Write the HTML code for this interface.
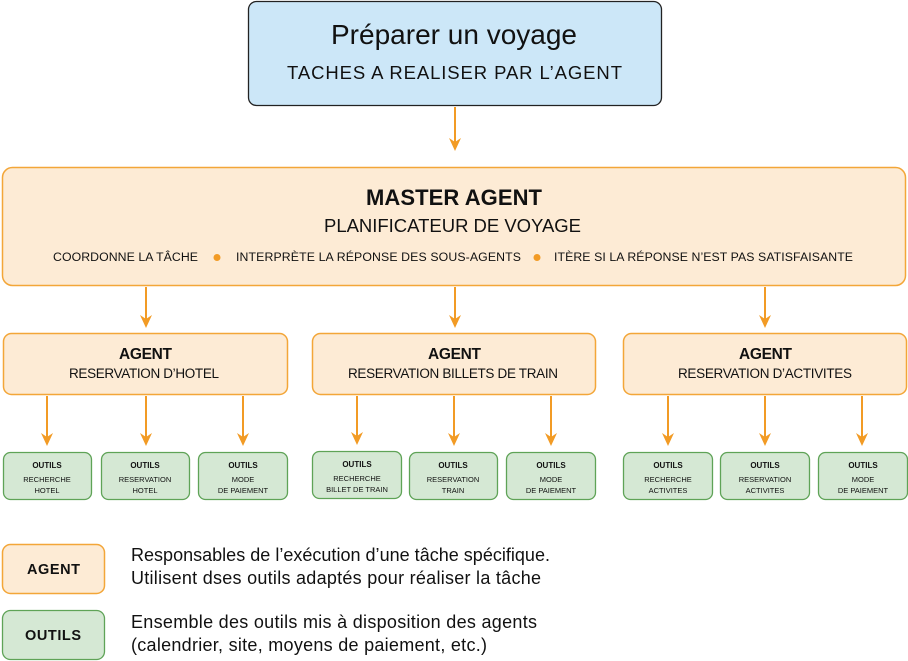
<!DOCTYPE html>
<html><head><meta charset="utf-8"><style>
html,body{margin:0;padding:0;background:#fff;}
svg{display:block;font-family:"Liberation Sans",Arial,sans-serif;}
</style></head><body>
<svg width="908" height="661" viewBox="0 0 908 661" xmlns="http://www.w3.org/2000/svg">
<defs>
<path id="ah" d="M-6,-13 L0,-9 L6,-13 L0,0 Z" fill="#F29B25"/>
</defs>
<g stroke="#F29B25" stroke-width="2" fill="none">
<line x1="455" y1="107" x2="455" y2="143"/>
<line x1="146" y1="287" x2="146" y2="320"/>
<line x1="455" y1="287" x2="455" y2="320"/>
<line x1="765" y1="287" x2="765" y2="320"/>
<line x1="47" y1="396" x2="47" y2="438"/>
<line x1="146" y1="396" x2="146" y2="438"/>
<line x1="243" y1="396" x2="243" y2="438"/>
<line x1="357" y1="396" x2="357" y2="437"/>
<line x1="454" y1="396" x2="454" y2="438"/>
<line x1="551" y1="396" x2="551" y2="438"/>
<line x1="668" y1="396" x2="668" y2="438"/>
<line x1="765" y1="396" x2="765" y2="438"/>
<line x1="862" y1="396" x2="862" y2="438"/>
</g>
<use href="#ah" x="455" y="151"/>
<use href="#ah" x="146" y="328"/><use href="#ah" x="455" y="328"/><use href="#ah" x="765" y="328"/>
<use href="#ah" x="47" y="446"/><use href="#ah" x="146" y="446"/><use href="#ah" x="243" y="446"/>
<use href="#ah" x="357" y="445"/><use href="#ah" x="454" y="446"/><use href="#ah" x="551" y="446"/>
<use href="#ah" x="668" y="446"/><use href="#ah" x="765" y="446"/><use href="#ah" x="862" y="446"/>
<!-- top -->
<rect x="248.5" y="1.5" width="413" height="104" rx="8" fill="#CCE7F8" stroke="#222" stroke-width="1.3"/>
<text x="331" y="44" font-size="28" fill="#111" textLength="246" lengthAdjust="spacing">Préparer un voyage</text>
<text x="287" y="79" font-size="18.5" fill="#111" textLength="335" lengthAdjust="spacing">TACHES A REALISER PAR L’AGENT</text>
<!-- master -->
<rect x="2.5" y="167.5" width="903" height="118" rx="10" fill="#FDEBD5" stroke="#F3A638" stroke-width="1.5"/>
<text x="366" y="205" font-size="22" font-weight="bold" fill="#111" textLength="176" lengthAdjust="spacing">MASTER AGENT</text>
<text x="324" y="232" font-size="18.5" fill="#111" textLength="257" lengthAdjust="spacing">PLANIFICATEUR DE VOYAGE</text>
<g font-size="12.3" fill="#111">
<text x="53" y="261" textLength="145" lengthAdjust="spacing">COORDONNE LA TÂCHE</text>
<text x="236" y="261" textLength="285" lengthAdjust="spacing">INTERPRÈTE LA RÉPONSE DES SOUS-AGENTS</text>
<text x="554" y="261" textLength="299" lengthAdjust="spacing">ITÈRE SI LA RÉPONSE N’EST PAS SATISFAISANTE</text>
</g>
<circle cx="217" cy="257.5" r="3.5" fill="#F29B25"/>
<circle cx="537" cy="257.5" r="3.5" fill="#F29B25"/>
<!-- agents -->
<g fill="#FDEBD5" stroke="#F3A638" stroke-width="1.5">
<rect x="3.5" y="333.5" width="284" height="61" rx="8"/>
<rect x="312.5" y="333.5" width="283" height="61" rx="8"/>
<rect x="623.5" y="333.5" width="283" height="61" rx="8"/>
</g>
<g fill="#111">
<text x="119" y="359" font-size="15.5" font-weight="bold" textLength="53" lengthAdjust="spacing">AGENT</text>
<text x="69" y="378" font-size="13.5" textLength="150" lengthAdjust="spacing">RESERVATION D’HOTEL</text>
<text x="428" y="359" font-size="15.5" font-weight="bold" textLength="53" lengthAdjust="spacing">AGENT</text>
<text x="348" y="378" font-size="13.5" textLength="210" lengthAdjust="spacing">RESERVATION BILLETS DE TRAIN</text>
<text x="739" y="359" font-size="15.5" font-weight="bold" textLength="53" lengthAdjust="spacing">AGENT</text>
<text x="678" y="378" font-size="13.5" textLength="174" lengthAdjust="spacing">RESERVATION D’ACTIVITES</text>
</g>
<!-- tools -->
<g fill="#D5E8D4" stroke="#5FA357" stroke-width="1.3">
<rect x="3.5" y="452.5" width="88" height="47" rx="7"/>
<rect x="101.5" y="452.5" width="88" height="47" rx="7"/>
<rect x="198.5" y="452.5" width="89" height="47" rx="7"/>
<rect x="312.5" y="451.5" width="89" height="47" rx="7"/>
<rect x="409.5" y="452.5" width="88" height="47" rx="7"/>
<rect x="506.5" y="452.5" width="89" height="47" rx="7"/>
<rect x="623.5" y="452.5" width="89" height="47" rx="7"/>
<rect x="720.5" y="452.5" width="89" height="47" rx="7"/>
<rect x="818.5" y="452.5" width="89" height="47" rx="7"/>
</g>
<g text-anchor="middle" fill="#111" font-size="7.5">
<g font-weight="bold" font-size="8">
<text x="47" y="468">OUTILS</text><text x="145" y="468">OUTILS</text><text x="243" y="468">OUTILS</text>
<text x="357" y="467">OUTILS</text><text x="453" y="468">OUTILS</text><text x="551" y="468">OUTILS</text>
<text x="668" y="468">OUTILS</text><text x="765" y="468">OUTILS</text><text x="863" y="468">OUTILS</text>
</g>
<text x="47" y="482">RECHERCHE</text><text x="47" y="493">HOTEL</text>
<text x="145" y="482">RESERVATION</text><text x="145" y="493">HOTEL</text>
<text x="243" y="482">MODE</text><text x="243" y="493">DE PAIEMENT</text>
<text x="357" y="481">RECHERCHE</text><text x="357" y="492">BILLET DE TRAIN</text>
<text x="453" y="482">RESERVATION</text><text x="453" y="493">TRAIN</text>
<text x="551" y="482">MODE</text><text x="551" y="493">DE PAIEMENT</text>
<text x="668" y="482">RECHERCHE</text><text x="668" y="493">ACTIVITES</text>
<text x="765" y="482">RESERVATION</text><text x="765" y="493">ACTIVITES</text>
<text x="863" y="482">MODE</text><text x="863" y="493">DE PAIEMENT</text>
</g>
<!-- legend -->
<rect x="2.5" y="544.5" width="102" height="49" rx="8" fill="#FDEBD5" stroke="#F3A638" stroke-width="1.5"/>
<rect x="2.5" y="610.5" width="102" height="49" rx="8" fill="#D5E8D4" stroke="#5FA357" stroke-width="1.3"/>
<text x="27" y="574" font-size="14.5" font-weight="bold" fill="#111" textLength="53" lengthAdjust="spacing">AGENT</text>
<text x="25" y="640" font-size="14.5" font-weight="bold" fill="#111" textLength="56" lengthAdjust="spacing">OUTILS</text>
<g font-size="18" fill="#111">
<text x="131" y="561" textLength="419" lengthAdjust="spacing">Responsables de l’exécution d’une tâche spécifique.</text>
<text x="131" y="584" textLength="410" lengthAdjust="spacing">Utilisent dses outils adaptés pour réaliser la tâche</text>
<text x="131" y="628" textLength="406" lengthAdjust="spacing">Ensemble des outils mis à disposition des agents</text>
<text x="131" y="651" textLength="356" lengthAdjust="spacing">(calendrier, site, moyens de paiement, etc.)</text>
</g>
</svg>
</body></html>
